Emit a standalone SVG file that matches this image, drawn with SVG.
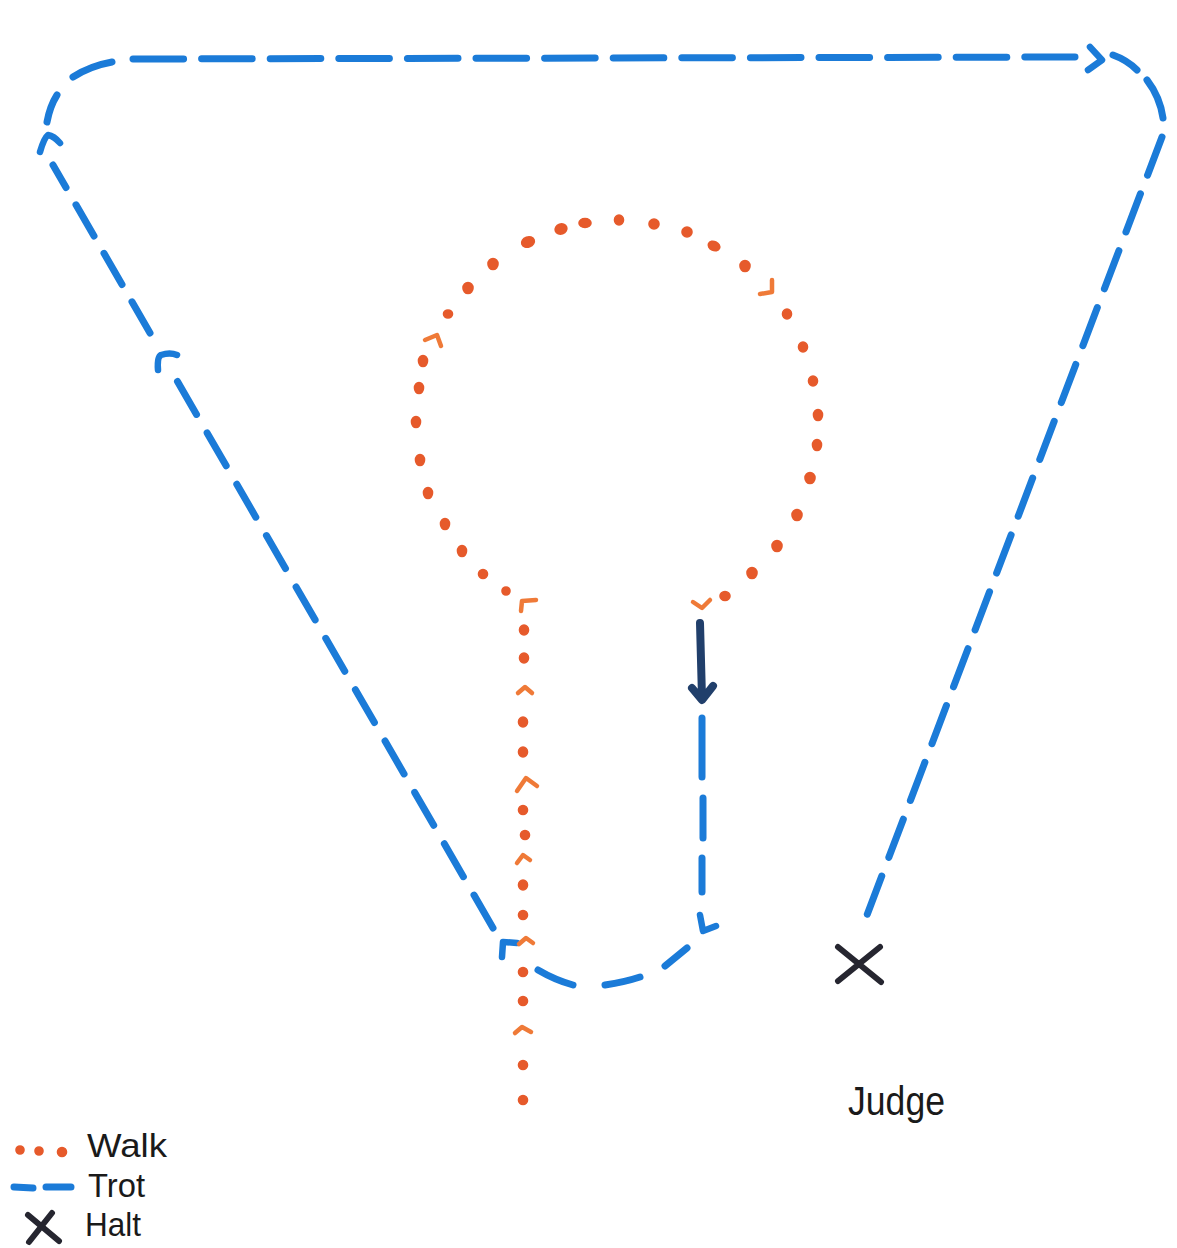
<svg xmlns="http://www.w3.org/2000/svg" width="1177" height="1248" viewBox="0 0 1177 1248">
<style>
.trot{fill:none;stroke:#1b7bd8;stroke-width:7;stroke-linecap:round;stroke-linejoin:round}
.chev{fill:none;stroke:#1b7bd8;stroke-width:6.5;stroke-linecap:round;stroke-linejoin:round}
.dot{fill:#e65a2b;stroke:#e65a2b;stroke-width:1.6}
.wchev{fill:none;stroke:#ef7a38;stroke-width:4.5;stroke-linecap:round;stroke-linejoin:round}
.halt{fill:none;stroke:#262630;stroke-width:6;stroke-linecap:round}
.lbl{font-family:"Liberation Sans",Arial,sans-serif;fill:#1a1a1a}
</style>
<rect width="1177" height="1248" fill="#ffffff"/>
<g id="connectors">
<g id="trot-path">
<path class="trot" d="M493 928 L172 372" stroke-dasharray="38 21.3"/>
<path class="trot" d="M150 333 L53 165" stroke-dasharray="36 20"/>
<path class="trot" d="M47 122 Q50 106 57 95"/>
<path class="trot" d="M73 77 Q90 66 112 62"/>
<path class="trot" d="M133 59 L1075 57" stroke-dasharray="50.6 18"/>
<path class="trot" d="M1113 55 Q1127 60 1137 70"/>
<path class="trot" d="M1147 80 Q1160 97 1163 118"/>
<path class="trot" d="M1162 137 L867 915" stroke-dasharray="40.8 20"/>
<path class="trot" d="M702 718 L702 777 M703 798 L703 838 M702 858 L702 892"/>
<path class="trot" d="M538 970 Q555 980 573 985"/>
<path class="trot" d="M605 985 Q625 982 640 977"/>
<path class="trot" d="M665 966 L687 948"/>
<path class="chev" d="M1090 47 L1102 60 L1088 70"/>
<path class="chev" d="M40 152 Q44 138 48 135 Q54 136 60 143"/>
<path class="chev" d="M158 370 Q157 357 161 355 Q170 352 177 355"/>
<path class="chev" d="M502 957 L503 942 L517 943"/>
<path class="chev" d="M700 915 L703 931 L716 926"/>
<path d="M700 623 L702 698 M692 688 L702 700 L713 686" fill="none" stroke="#213f6b" stroke-width="8" stroke-linecap="round" stroke-linejoin="round"/>
</g>
<g id="walk-path">
<ellipse class="dot" cx="419" cy="388" rx="4.5" ry="5.5"/>
<ellipse class="dot" cx="423" cy="361" rx="4.5" ry="5.5"/>
<path class="wchev" d="M425 340 L437 335 L441 346"/>
<ellipse class="dot" cx="448" cy="314" rx="4.5" ry="4"/>
<ellipse class="dot" cx="468" cy="288" rx="5" ry="5.5"/>
<ellipse class="dot" cx="493" cy="264" rx="5" ry="5.5"/>
<ellipse class="dot" cx="528" cy="242" rx="6.5" ry="5" transform="rotate(-20 528 242)"/>
<ellipse class="dot" cx="561" cy="229" rx="6" ry="5" transform="rotate(-20 561 229)"/>
<ellipse class="dot" cx="585" cy="223" rx="6" ry="4.5"/>
<ellipse class="dot" cx="619" cy="220" rx="4.5" ry="5"/>
<ellipse class="dot" cx="654" cy="224" rx="5" ry="5"/>
<ellipse class="dot" cx="687" cy="232" rx="5" ry="5"/>
<ellipse class="dot" cx="714" cy="246" rx="6" ry="4.5" transform="rotate(25 714 246)"/>
<ellipse class="dot" cx="745" cy="266" rx="5" ry="5.5"/>
<path class="wchev" d="M760 294 L772 292 L772 280"/>
<ellipse class="dot" cx="787" cy="314" rx="4.5" ry="5"/>
<ellipse class="dot" cx="803" cy="347" rx="4.5" ry="5"/>
<ellipse class="dot" cx="813" cy="381" rx="4.5" ry="5"/>
<ellipse class="dot" cx="818" cy="415" rx="4.5" ry="5.5"/>
<ellipse class="dot" cx="817" cy="445" rx="4.5" ry="5.5"/>
<ellipse class="dot" cx="810" cy="478" rx="5" ry="5.5"/>
<ellipse class="dot" cx="797" cy="515" rx="5" ry="5.5"/>
<ellipse class="dot" cx="777" cy="546" rx="5" ry="5.5"/>
<ellipse class="dot" cx="752" cy="573" rx="5" ry="5.5"/>
<ellipse class="dot" cx="725" cy="596" rx="5" ry="4.5"/>
<path class="wchev" d="M693 602 L702 608 L710 600"/>
<ellipse class="dot" cx="416" cy="422" rx="4.5" ry="5.5"/>
<ellipse class="dot" cx="420" cy="460" rx="4.5" ry="5.5"/>
<ellipse class="dot" cx="428" cy="493" rx="4.5" ry="5.5"/>
<ellipse class="dot" cx="445" cy="524" rx="4.5" ry="5.5"/>
<ellipse class="dot" cx="462" cy="551" rx="4.5" ry="5.5"/>
<ellipse class="dot" cx="483" cy="574" rx="4.5" ry="4.5"/>
<ellipse class="dot" cx="506" cy="591" rx="4" ry="4"/>
<path class="wchev" d="M521 611 L522 601 L536 600"/>
<ellipse class="dot" cx="524" cy="630" rx="4.5" ry="5"/>
<ellipse class="dot" cx="524" cy="658" rx="4.5" ry="5"/>
<path class="wchev" d="M518 693 L525 687 L532 693"/>
<ellipse class="dot" cx="523" cy="722" rx="4.5" ry="5"/>
<ellipse class="dot" cx="523" cy="752" rx="4.5" ry="5"/>
<path class="wchev" d="M517 791 L526 778 L537 786"/>
<ellipse class="dot" cx="523" cy="810" rx="4.5" ry="4.5"/>
<ellipse class="dot" cx="525" cy="835" rx="4.5" ry="4.5"/>
<path class="wchev" d="M517 863 L523 855 L530 860"/>
<ellipse class="dot" cx="523" cy="885" rx="4.5" ry="5"/>
<ellipse class="dot" cx="523" cy="915" rx="4.5" ry="4.5"/>
<path class="wchev" d="M519 944 L526 938 L533 943"/>
<ellipse class="dot" cx="523" cy="972" rx="4.5" ry="4.5"/>
<ellipse class="dot" cx="523" cy="1001" rx="4.5" ry="4.5"/>
<path class="wchev" d="M515 1033 L522 1027 L531 1032"/>
<ellipse class="dot" cx="523" cy="1065" rx="4.5" ry="4.5"/>
<ellipse class="dot" cx="523" cy="1100" rx="4.5" ry="4.5"/>
</g>
</g>
<g id="halt">
<path class="halt" d="M838 947 L881 982 M838 981 L880 947"/>
</g>
<g id="judge">
<text class="lbl" x="848" y="1115" font-size="40" textLength="97" lengthAdjust="spacingAndGlyphs">Judge</text>
</g>
<g id="legend">
<circle class="dot" cx="20" cy="1150" r="4"/>
<circle class="dot" cx="39" cy="1151" r="4"/>
<circle class="dot" cx="62" cy="1152" r="4.5"/>
<path class="trot" d="M14 1187 L33 1188 M46 1187 L71 1187"/>
<path class="halt" d="M28 1215 L59 1241 M29 1242 L52 1213"/>
<text class="lbl" x="87" y="1157" font-size="33" textLength="80" lengthAdjust="spacingAndGlyphs">Walk</text>
<text class="lbl" x="88" y="1197" font-size="33" textLength="57" lengthAdjust="spacingAndGlyphs">Trot</text>
<text class="lbl" x="85" y="1236" font-size="33" textLength="56" lengthAdjust="spacingAndGlyphs">Halt</text>
</g>
</svg>
